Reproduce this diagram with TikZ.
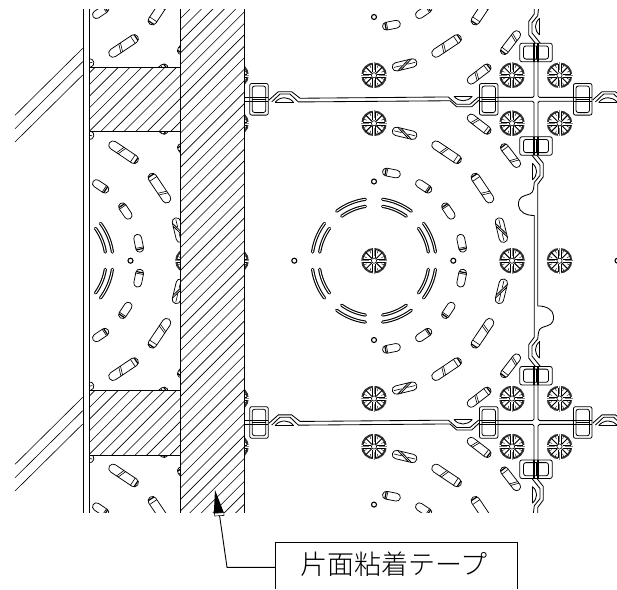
\documentclass[tikz,border=0pt]{standalone}
\usepackage{fontspec}
\newfontfamily\cjk{Noto Sans CJK JP}[UprightFont=* Light]
\tikzset{
  thinline/.style={line width=0.85pt,black},
  hatchline/.style={line width=0.6pt,black},
  edgeline/.style={line width=1pt,black},
  capfill/.style={line width=0.75pt,draw=black,fill=white},
  clipbox/.style={line width=0.8pt,draw=black,fill=white},
}
% capsule: cx cy radius angle length width endband stripe
\newcommand\capsl[8]{%
  \begin{scope}[shift={(#1,#2)},rotate=-#4]
    \pgfmathsetmacro\capa{#3-#6/2}\pgfmathsetmacro\capb{#3+#6/2}
    \pgfmathsetmacro\capl{#5/2}\pgfmathsetmacro\capr{#6*0.49}
    \draw[capfill,rounded corners=\capr pt] (\capa,-\capl) rectangle (\capb,\capl);
    \begin{scope}
      \clip[rounded corners=\capr pt] (\capa,-\capl) rectangle (\capb,\capl);
      \ifdim #7pt=0pt\else
        \pgfmathsetmacro\cape{#7}\pgfmathsetmacro\capf{#7*0.74}
        \draw[line width=1.2pt] (\capa,\cape) -- (\capb,\cape);
        \draw[line width=0.6pt] (\capa,\capf) -- (\capb,\capf);
      \fi
      \ifdim #8pt=0pt\else
        \pgfmathsetmacro\caps{#8-1.6}\pgfmathsetmacro\capt{#8+1.6}
        \pgfmathsetmacro\capu{#8+0.4}\pgfmathsetmacro\capv{#8+3.6}
        \draw[line width=0.6pt] (\capa,\caps) -- (\capb,\capt);
        \draw[line width=0.6pt] (\capa,\capu) -- (\capb,\capv);
      \fi
    \end{scope}
  \end{scope}}
% diagonal dark capsule
\newcommand\capdark[5]{%
  \begin{scope}[shift={(#1,#2)},rotate=-#4]
    \pgfmathsetmacro\capa{#3-4.2}\pgfmathsetmacro\capb{#3+4.2}\pgfmathsetmacro\capc{#3}
    \draw[capfill,rounded corners=4pt] (\capa,-12.5) rectangle (\capb,12.5);
    \draw[line width=0.8pt] (\capa,#5*8) -- (\capb,-#5*5);
    \draw[line width=0.8pt] (\capa,#5*5) -- (\capb,-#5*8);
    \draw[line width=0.6pt] (\capc,-11) -- (\capc,-3) (\capc,3) -- (\capc,11);
  \end{scope}}
\newcommand\rosette[2]{%
  \begin{scope}[shift={(#1,#2)}]
    \fill[white] (0,0) circle[radius=13];
    \draw[line width=2pt,black!80] (0,0) circle[radius=11.8];
    \foreach \rb in {45,135,225,315}{
      \draw[line width=1pt] (\rb:3) -- (\rb:11.5);
    }
    \foreach \rb in {22.5,67.5,112.5,157.5,202.5,247.5,292.5,337.5}{
      \draw[line width=0.45pt] (\rb:8) -- (\rb:11.5);
    }
    \foreach \rb in {0,90,180,270}{
      \begin{scope}[rotate=\rb]
        \fill[white] (2.8,-1.2) rectangle (13.4,1.2);
        \draw[line width=0.6pt] (3,-1.5) -- (11,-1.5) (3,1.5) -- (11,1.5);
        \draw[line width=0.45pt,black!50] (5,0) -- (13,0);
      \end{scope}
    }
    \draw[line width=0.6pt,fill=white] (0,0) circle[radius=2.6];
  \end{scope}}
\newcommand\hring[2]{\draw[line width=1.1pt,fill=white] (#1,#2) circle[radius=2.5];}
\newcommand\hclip[2]{%
  \begin{scope}[shift={(#1,#2)}]
    \draw[clipbox,rounded corners=2pt] (-9.3,-15.8) rectangle (9.3,15.8);
    \draw[clipbox,rounded corners=2.5pt] (-6.8,-13.3) rectangle (6.8,13.3);
    \draw[line width=1.1pt] (-9.3,-1.9) -- (9.3,-1.9) (-9.3,1.9) -- (9.3,1.9);
    \draw[line width=0.7pt] (-6.8,0) -- (6.8,0);
  \end{scope}}
\newcommand\vclip[2]{%
  \begin{scope}[shift={(#1,#2)}]
    \draw[clipbox,rounded corners=2pt] (-16.2,-9.2) rectangle (16.2,9.2);
    \draw[clipbox,rounded corners=2.5pt] (-12.5,-6.6) rectangle (12.5,6.6);
    \draw[line width=1.1pt] (-2,-9.2) -- (-2,9.2) (2,-9.2) -- (2,9.2);
    \draw[line width=0.7pt] (0,-6.6) -- (0,6.6);
  \end{scope}}
% bump rising above the seam, with dome below it; origin at left clip centre
\newcommand\bumpup[1]{%
  \begin{scope}[shift={(#1,0)}]
    \draw[thinline] (10,100) -- (19.3,91.7) -- (32.7,91.7) -- (41,98.2) -- (46,98.2);
    \draw[thinline] (12.7,101.9) -- (21,94) -- (31,94) -- (39.3,101.9) -- (46,101.9);
    \draw[line width=1.4pt] (16,102.4) -- (34.5,102.4);
    \draw[thinline] (16,102.4) .. controls (21,96.2) and (30,96.2) .. (34.5,102.4);
  \end{scope}}
\newcommand\seamrow{%
  \draw[thinline] (244.5,97.4) -- (250,97.4) (244.5,101.2) -- (250,101.2);
  \bumpup{259}
  \draw[thinline] (305,98.2) -- (443.3,97) -- (448.3,97) -- (456.7,104.3) -- (470,104.3) -- (478.6,96.9);
  \draw[thinline] (305,101.9) -- (443.3,100.8) -- (450,100.8) -- (456.7,106.8) -- (471.7,106.8) -- (480,99.2);
  \draw[line width=1.4pt] (454,96.3) -- (472.3,96.3);
  \draw[thinline] (454,96.3) .. controls (459,102.3) and (467,102.3) .. (472.3,96.3);
  \bumpup{582.7}
  \draw[thinline,rounded corners=1.5pt] (497,97.4) -- (534,97.4) -- (534,61);
  \draw[thinline,rounded corners=1.5pt] (574,97.4) -- (538,97.4) -- (538,61);
  \draw[thinline,rounded corners=1.5pt] (497,101.2) -- (534,101.2) -- (534,137);
  \draw[thinline,rounded corners=1.5pt] (574,101.2) -- (538,101.2) -- (538,137);
  \hclip{259}{99.3}
  \hclip{488.7}{99.3}
  \hclip{582.7}{99.3}
  \vclip{536}{52.5}
  \vclip{536}{146}
}
% vertical seam between two clips (y 155 to 366)
\newcommand\vseamhalf{%
  \draw[thinline] (531.7,155) -- (540,165.3) -- (540,175.5) -- (534.3,182.5) -- (533.5,189)
     .. controls (533,194) and (528,194.5) .. (525,195.5)
     .. controls (519,197) and (518,202) .. (518.5,205.5)
     .. controls (519,212) and (526,215.5) .. (534.3,215.5)
     -- (534.3,337.1) -- (528.7,344.7) -- (528.7,358.1) -- (535.3,366.4);
  \draw[line width=1.4pt] (532.3,163.3) -- (532.3,180);
  \draw[thinline] (532.3,163.3) .. controls (538,168) and (538,175) .. (532.3,180);
}
\newcommand\vseam{%
  \vseamhalf
  \begin{scope}[rotate around={180:(536,260.7)}]\vseamhalf\end{scope}
}
% half-cell capsules
\newcommand\cellcaps[2]{%
  \foreach \ang/\ee in {-78.75/-6,-56.25/6,-33.75/-6.5,-11.25/6,11.25/-6,33.75/6.5,56.25/-6,78.75/6}{
    \capsl{#1}{#2}{89.4}{\ang}{18}{7.8}{\ee}{0}
  }
  \foreach \ang/\ee/\ss in {-56.2/15/-4,-33.8/-15/5,33.8/15/-6.5,56.2/-15/2.5}{
    \capsl{#1}{#2}{130.5}{\ang}{34}{8.6}{\ee}{\ss}
  }
  \foreach \ang/\ee in {-76.5/1,-13.5/-1,13.5/1,76.5/-1}{
    \capdark{#1}{#2}{131}{\ang}{\ee}
  }
  \foreach \ang/\ee/\ss in {-52.4/12/-6,-37.6/-12/5,37.6/12/-7,52.4/-12/2}{
    \capsl{#1}{#2}{172.3}{\ang}{28}{8}{\ee}{\ss}
  }
}
\newcommand\slotarc[3]{%
  \draw[line width=3.2pt,line cap=round] ([shift={(374,260.7)}]#1:#3) arc[start angle=#1,end angle=#2,radius=#3];
  \draw[line width=1pt,white,line cap=round] ([shift={(374,260.7)}]#1:#3) arc[start angle=#1,end angle=#2,radius=#3];
}
\newcommand\slotarcl[3]{%
  \draw[line width=3.2pt,line cap=round] ([shift={(51,260.7)}]#1:#3) arc[start angle=#1,end angle=#2,radius=#3];
  \draw[line width=1pt,white,line cap=round] ([shift={(51,260.7)}]#1:#3) arc[start angle=#1,end angle=#2,radius=#3];
}
\begin{document}
\begin{tikzpicture}[x=1pt,y=-1pt]
\useasboundingbox (0,0) rectangle (617,589);
\fill[white] (0,0) rectangle (617,589);
% ---------- diagonal lines at the far left
\foreach \yy in {48.3,61.7,75,397.3,410.7,424}{
  \draw[hatchline] (82.7,\yy) -- (15,\yy+67);
}
% ---------- left partial cell
\begin{scope}
  \clip (89.5,9) rectangle (180,512.5);
  \foreach \cy in {-62.5,260.7,583.9}{ \cellcaps{51}{\cy} }
  \foreach \aa in {-82,-37,8,53}{
    \pgfmathsetmacro\ab{\aa+29}
    \slotarcl{\aa}{\ab}{62}
    \pgfmathsetmacro\ac{\aa+1}\pgfmathsetmacro\ad{\aa+28}
    \slotarcl{\ac}{\ad}{55}
  }
  \hring{130.5}{260.7}
  \rosette{188}{260.7}
\end{scope}
% ---------- right area
\begin{scope}
  \clip (244.5,9) rectangle (617,512.5);
  \foreach \cy in {-62.5,260.7,583.9}{ \cellcaps{374}{\cy} }
  \foreach \aa in {8,53,98,143,188,233,278,323}{
    \pgfmathsetmacro\ab{\aa+29}
    \slotarc{\aa}{\ab}{62}
    \pgfmathsetmacro\ac{\aa+1}\pgfmathsetmacro\ad{\aa+28}
    \slotarc{\ac}{\ad}{55}
  }
  \foreach \px/\py in {294.3/260.7,453.3/260.7,374/181.5,374/340,374/17,374/504.6,617.5/260.7}{ \hring{\px}{\py} }
  \foreach \px in {236,374,512,559.5}{
    \foreach \py in {75.3,123.3,398.5,446.5}{ \rosette{\px}{\py} }
  }
  \foreach \px in {236,512,559.5}{ \rosette{\px}{260.7} }
  \rosette{374}{260.7}
  \seamrow
  \begin{scope}[yshift=-323.2pt]\seamrow\end{scope}
  \vseam
  \begin{scope}[yshift=-323.2pt]\vseam\end{scope}
  \begin{scope}[yshift=323.2pt]\vseam\end{scope}
\end{scope}
% ---------- hatched column and blocks
\fill[white] (180,9) rectangle (244.5,512.5);
\begin{scope}
  \clip (180,9) rectangle (244.5,512.5);
  \foreach \cc in {0,...,50}{
    \draw[hatchline] ({199+11.45*\cc},0) -- ({199+11.45*\cc-600},600);
  }
\end{scope}
\foreach \ytop/\ybot/\cz in {67/131/174,390/455/497}{
  \fill[white] (89.5,\ytop) rectangle (180,\ybot);
  \begin{scope}
    \clip (89.5,\ytop) rectangle (180,\ybot);
    \foreach \cc in {-2,...,16}{
      \draw[hatchline] ({\cz+11.65*\cc},0) -- ({\cz+11.65*\cc-600},600);
    }
  \end{scope}
  \draw[edgeline] (89.5,\ytop) -- (180,\ytop) (89.5,\ybot) -- (180,\ybot);
}
\draw[edgeline] (83,9) -- (83,512.5);
\draw[edgeline] (89.5,9) -- (89.5,512.5);
\draw[edgeline] (180,9) -- (180,512.5);
\draw[edgeline] (244.5,9) -- (244.5,512.5);
% ---------- label and leader
\coordinate (tip) at (215,490);
\coordinate (bend) at (227,567.3);
\coordinate (base) at (219.5,515);
\coordinate (boxw) at (275,567.3);
\draw[line width=0.9pt] (275,589) -- (275,542.3) -- (517,542.3) -- (517,589);
\node[inner sep=0pt] (lbl) at (393.7,564) {\cjk\fontsize{27pt}{27pt}\selectfont 片面粘着テープ};
\draw[line width=0.9pt] (boxw) -- (bend) -- (base);
\fill[black] (tip) -- (213.8,514) -- (224,513) -- cycle;
\draw[line width=0.6pt,fill=white] (214.5,513.2) -- (223.8,512.6) -- (224,515.4) -- (214.7,516) -- cycle;
\end{tikzpicture}
\end{document}
